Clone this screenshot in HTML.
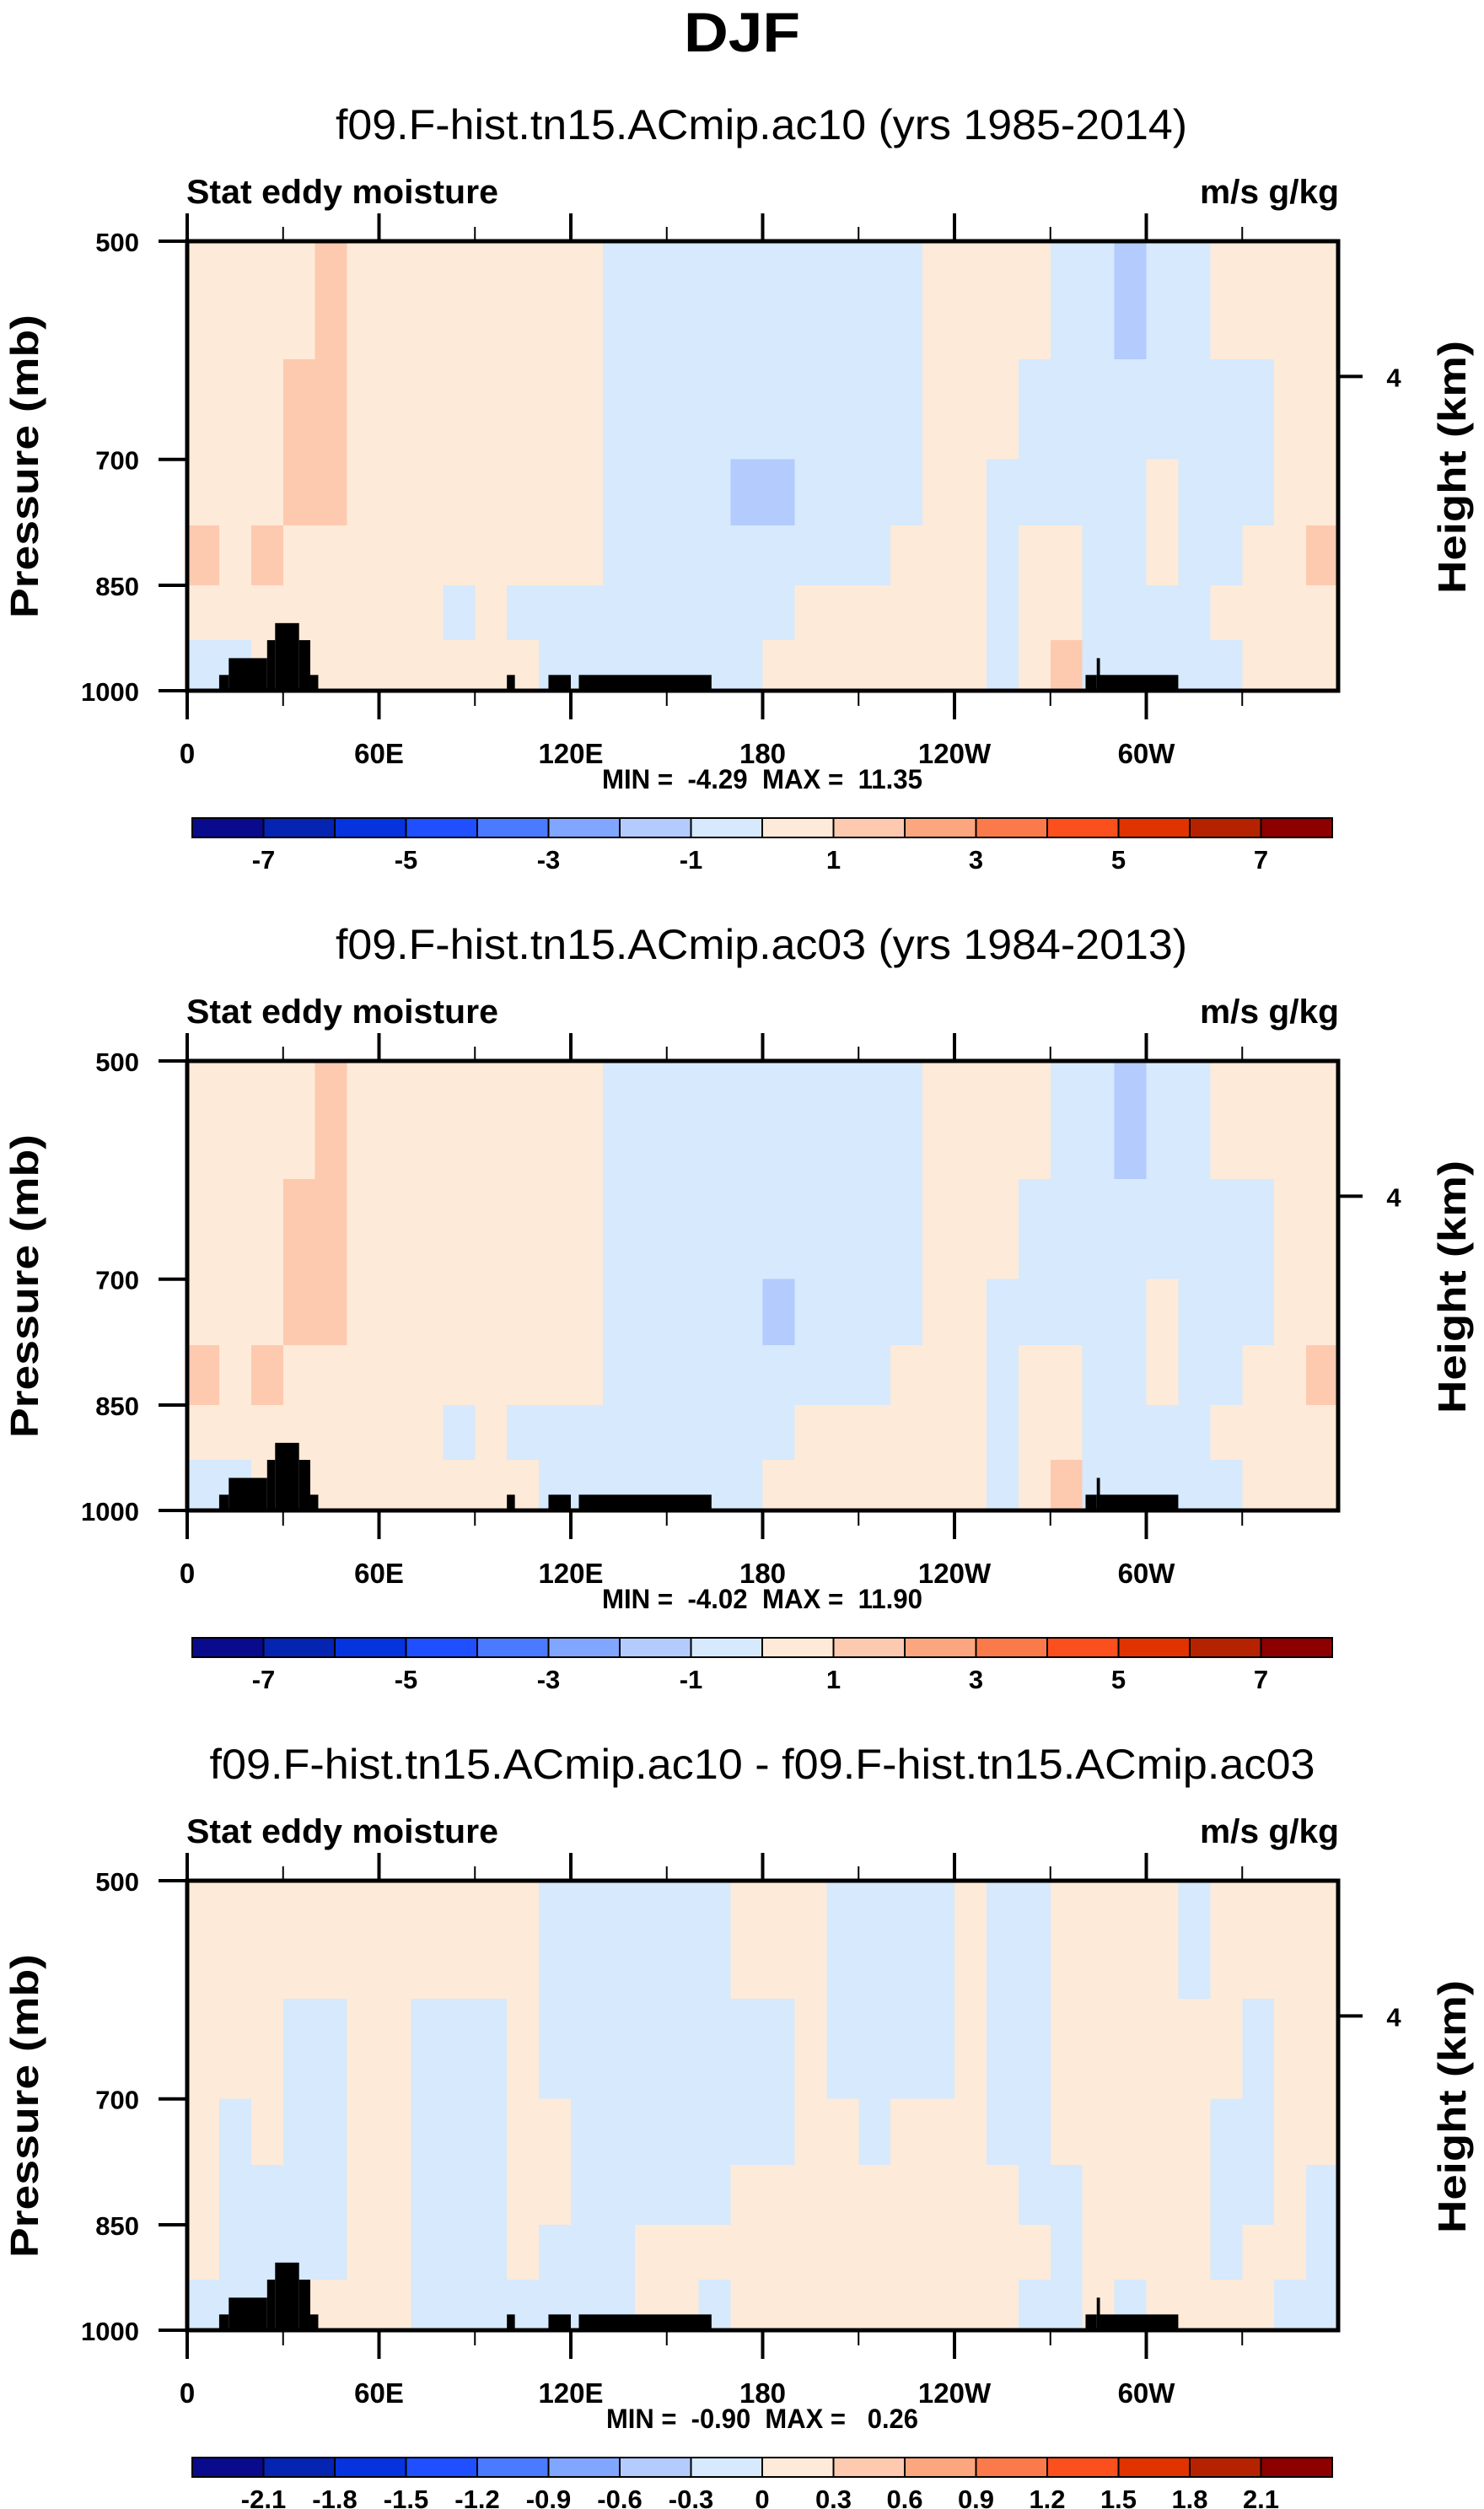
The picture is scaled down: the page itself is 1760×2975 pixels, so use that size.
<!DOCTYPE html>
<html><head><meta charset="utf-8"><style>
html,body{margin:0;padding:0;background:#fff;}
svg{display:block;font-family:"Liberation Sans",sans-serif;}
text{white-space:pre;}
</style></head><body>
<svg id="root" xmlns="http://www.w3.org/2000/svg" width="1760" height="2975" viewBox="0 0 1760 2975">
<text x="880" y="61" text-anchor="middle" font-size="66" font-weight="bold" textLength="138" lengthAdjust="spacingAndGlyphs">DJF</text>
</svg>
<script>
// ---- data ----
const lonEdgesStep = 10;
const pressureBands = [500, 600, 700, 775, 850, 925, 1000];
const panelTitles = ["f09.F-hist.tn15.ACmip.ac10 (yrs 1985-2014)", "f09.F-hist.tn15.ACmip.ac03 (yrs 1984-2013)", "f09.F-hist.tn15.ACmip.ac10 - f09.F-hist.tn15.ACmip.ac03"];
const minMaxLabels = ["MIN =  -4.29  MAX =  11.35", "MIN =  -4.02  MAX =  11.90", "MIN =  -0.90  MAX =   0.26"];
const panel1Values = [
[.5,.5,.5,1.5,.5,-.5],[.5,.5,.5,.5,.5,-.5],[.5,.5,.5,1.5,.5,.5],[.5,1.5,1.5,.5,.5,.5],[1.5,1.5,1.5,.5,.5,.5],
[.5,.5,.5,.5,.5,.5],[.5,.5,.5,.5,.5,.5],[.5,.5,.5,.5,.5,.5],[.5,.5,.5,.5,-.5,.5],[.5,.5,.5,.5,.5,.5],
[.5,.5,.5,.5,-.5,.5],[.5,.5,.5,.5,-.5,-.5],[.5,.5,.5,.5,-.5,-.5],[-.5,-.5,-.5,-.5,-.5,-.5],[-.5,-.5,-.5,-.5,-.5,-.5],
[-.5,-.5,-.5,-.5,-.5,-.5],[-.5,-.5,-.5,-.5,-.5,-.5],[-.5,-.5,-1.5,-.5,-.5,-.5],[-.5,-.5,-1.5,-.5,-.5,.5],[-.5,-.5,-.5,-.5,.5,.5],
[-.5,-.5,-.5,-.5,.5,.5],[-.5,-.5,-.5,-.5,.5,.5],[-.5,-.5,-.5,.5,.5,.5],[.5,.5,.5,.5,.5,.5],[.5,.5,.5,.5,.5,.5],
[.5,.5,-.5,-.5,-.5,-.5],[.5,-.5,-.5,.5,.5,.5],[-.5,-.5,-.5,.5,.5,1.5],[-.5,-.5,-.5,-.5,-.5,-.5],[-1.5,-.5,-.5,-.5,-.5,-.5],
[-.5,-.5,.5,.5,-.5,-.5],[-.5,-.5,-.5,-.5,-.5,-.5],[.5,-.5,-.5,-.5,.5,-.5],[.5,-.5,-.5,.5,.5,.5],[.5,.5,.5,.5,.5,.5],
[.5,.5,.5,1.5,.5,.5]];
const panel2Values = [
[.5,.5,.5,1.5,.5,-.5],[.5,.5,.5,.5,.5,-.5],[.5,.5,.5,1.5,.5,.5],[.5,1.5,1.5,.5,.5,.5],[1.5,1.5,1.5,.5,.5,.5],
[.5,.5,.5,.5,.5,.5],[.5,.5,.5,.5,.5,.5],[.5,.5,.5,.5,.5,.5],[.5,.5,.5,.5,-.5,.5],[.5,.5,.5,.5,.5,.5],
[.5,.5,.5,.5,-.5,.5],[.5,.5,.5,.5,-.5,-.5],[.5,.5,.5,.5,-.5,-.5],[-.5,-.5,-.5,-.5,-.5,-.5],[-.5,-.5,-.5,-.5,-.5,-.5],
[-.5,-.5,-.5,-.5,-.5,-.5],[-.5,-.5,-.5,-.5,-.5,-.5],[-.5,-.5,-.5,-.5,-.5,-.5],[-.5,-.5,-1.5,-.5,-.5,.5],[-.5,-.5,-.5,-.5,.5,.5],
[-.5,-.5,-.5,-.5,.5,.5],[-.5,-.5,-.5,-.5,.5,.5],[-.5,-.5,-.5,.5,.5,.5],[.5,.5,.5,.5,.5,.5],[.5,.5,.5,.5,.5,.5],
[.5,.5,-.5,-.5,-.5,-.5],[.5,-.5,-.5,.5,.5,.5],[-.5,-.5,-.5,.5,.5,1.5],[-.5,-.5,-.5,-.5,-.5,-.5],[-1.5,-.5,-.5,-.5,-.5,-.5],
[-.5,-.5,.5,.5,-.5,-.5],[-.5,-.5,-.5,-.5,-.5,-.5],[.5,-.5,-.5,-.5,.5,-.5],[.5,-.5,-.5,.5,.5,.5],[.5,.5,.5,.5,.5,.5],
[.5,.5,.5,1.5,.5,.5]];
const panel3Values = [
[.15,.15,.15,.15,.15,-.15],[.15,.15,-.15,-.15,-.15,-.15],[.15,.15,.15,-.15,-.15,-.15],[.15,-.15,-.15,-.15,-.15,.15],[.15,-.15,-.15,-.15,-.15,.15],
[.15,.15,.15,.15,.15,.15],[.15,.15,.15,.15,.15,.15],[.15,-.15,-.15,-.15,-.15,-.15],[.15,-.15,-.15,-.15,-.15,-.15],[.15,-.15,-.15,-.15,-.15,-.15],
[.15,.15,.15,.15,.15,-.15],[-.15,-.15,.15,.15,-.15,-.15],[-.15,-.15,-.15,-.15,-.15,-.15],[-.15,-.15,-.15,-.15,-.15,-.15],[-.15,-.15,-.15,-.15,.15,.15],
[-.15,-.15,-.15,-.15,.15,.15],[-.15,-.15,-.15,-.15,.15,-.15],[.15,-.15,-.15,.15,.15,.15],[.15,-.15,-.15,.15,.15,.15],[.15,.15,.15,.15,.15,.15],
[-.15,-.15,.15,.15,.15,.15],[-.15,-.15,-.15,.15,.15,.15],[-.15,-.15,.15,.15,.15,.15],[-.15,-.15,.15,.15,.15,.15],[.15,.15,.15,.15,.15,.15],
[-.15,-.15,-.15,.15,.15,.15],[-.15,-.15,-.15,-.15,.15,-.15],[.15,.15,.15,-.15,-.15,-.15],[.15,.15,.15,.15,.15,.15],[.15,.15,.15,.15,.15,-.15],
[.15,.15,.15,.15,.15,.15],[-.15,.15,.15,.15,.15,.15],[.15,.15,-.15,-.15,-.15,.15],[.15,-.15,-.15,-.15,.15,.15],[.15,.15,.15,.15,.15,-.15],
[.15,.15,.15,-.15,-.15,-.15]];
const topography = [[10,13,976],[13,25,951],[25,27.5,925],[27.5,35,901],[35,38.5,925],[38.5,41,976],[100,102.5,976],[113,120,976],[122.5,164,976],[281,284.5,976],[284.5,285.5,951],[285.5,310,976]];
const xTickLons = [0, 60, 120, 180, 240, 300];
const xTickLabels = ["0", "60E", "120E", "180", "120W", "60W"];
const xMinorLons = [30, 90, 150, 210, 270, 330];
const yTickPressures = [500, 700, 850, 1000];
const heightTickKm = [4];
const heightTickPressure = [616];
const cbLabels12 = ["-7","","-5","","-3","","-1","","1","","3","","5","","7"];
const cbLabels3 = ["-2.1","-1.8","-1.5","-1.2","-0.9","-0.6","-0.3","0","0.3","0.6","0.9","1.2","1.5","1.8","2.1"];
const levelSteps = [1, 1, 0.3];
const palette = ["#0a0a8c","#0524b2","#0533de","#1f4fff","#4a7aff","#80a6ff","#b3cbfd","#d6e9fd","#feead8","#fdcab0","#fca67f","#fb7a4c","#fb4f1e","#e03300","#b52200","#8c0000"];

// ---- drawing ----
const NS = "http://www.w3.org/2000/svg";
const root = document.getElementById("root");
const PL = 222, PR = 1587, PT = 286, PH = 533, DY = 972;
function mk(tag, attrs, parent, txt) {
  const e = document.createElementNS(NS, tag);
  for (const k in attrs) e.setAttribute(k, attrs[k]);
  if (txt !== undefined) e.textContent = txt;
  (parent || root).appendChild(e);
  return e;
}
function xs(lon) { return PL + (PR - PL) * lon / 360; }
function ys(p, k) { return PT + k * DY + PH * Math.log(p / 500) / Math.LN2; }
function colorIdx(v, step) { return Math.max(0, Math.min(15, Math.floor(v / step) + 8)); }

const allValues = [panel1Values, panel2Values, panel3Values];
for (let k = 0; k < 3; k++) {
  const oy = k * DY;
  const g = mk("g", {});
  
  
  const tt = mk("text", {x: k === 2 ? 904 : 903, y: 165 + oy, "text-anchor": "middle", "font-size": 50, textLength: k === 2 ? 1311 : 1010, lengthAdjust: "spacingAndGlyphs"}, g, panelTitles[k]);
  
  
  const lt = mk("text", {x: 221, y: 241 + oy, "font-size": 40, "font-weight": "bold", textLength: 370, lengthAdjust: "spacingAndGlyphs"}, g, "Stat eddy moisture");
  
  
  const ut = mk("text", {x: 1588, y: 241 + oy, "text-anchor": "end", "font-size": 40, "font-weight": "bold", textLength: 165, lengthAdjust: "spacingAndGlyphs"}, g, "m/s g/kg");
  
  
  const cg = mk("g", {"shape-rendering": "crispEdges"}, g);
  
  
  const vals = allValues[k];
  for (let c = 0; c < vals.length; c++) {
    for (let r = 0; r < pressureBands.length - 1; r++) {
      const x0 = xs(c * lonEdgesStep), x1 = xs((c + 1) * lonEdgesStep);
      const y0 = ys(pressureBands[r], k), y1 = ys(pressureBands[r + 1], k);
      const cell = mk("rect", {x: x0, y: y0, width: x1 - x0 + 0.6, height: y1 - y0 + 0.6, fill: palette[colorIdx(vals[c][r], levelSteps[k])]}, cg);
      
      
    }
  }
  for (const t of topography) {
    const tr = mk("rect", {x: xs(t[0]), y: ys(t[2], k), width: xs(t[1]) - xs(t[0]), height: ys(1000, k) - ys(t[2], k), fill: "#000"}, g);
    
    
  }
  const fr = mk("rect", {x: PL, y: PT + oy, width: PR - PL, height: PH, fill: "none", stroke: "#000", "stroke-width": 5}, g);
  
  
  xTickLons.forEach((lon, i) => {
    const x = xs(lon);
    const t1 = mk("line", {x1: x, x2: x, y1: PT + oy, y2: PT + oy - 33, stroke: "#000", "stroke-width": 4}, g);
    
    
    const t2 = mk("line", {x1: x, x2: x, y1: PT + PH + oy, y2: PT + PH + oy + 34, stroke: "#000", "stroke-width": 4}, g);
    
    
    const lb = mk("text", {x: x, y: 905 + oy, "text-anchor": "middle", "font-size": 33, "font-weight": "bold"}, g, xTickLabels[i]);
    
    
  });
  xMinorLons.forEach(lon => {
    const x = xs(lon);
    const m1 = mk("line", {x1: x, x2: x, y1: PT + oy, y2: PT + oy - 17, stroke: "#000", "stroke-width": 2}, g);
    
    
    const m2 = mk("line", {x1: x, x2: x, y1: PT + PH + oy, y2: PT + PH + oy + 18, stroke: "#000", "stroke-width": 2}, g);
    
    
  });
  yTickPressures.forEach(p => {
    const y = ys(p, k);
    const yt = mk("line", {x1: PL, x2: PL - 34, y1: y, y2: y, stroke: "#000", "stroke-width": 4}, g);
    
    
    const yl = mk("text", {x: 165, y: y + 12, "text-anchor": "end", "font-size": 31, "font-weight": "bold"}, g, String(p));
    
    
  });
  heightTickKm.forEach((km, i) => {
    const y = ys(heightTickPressure[i], k);
    const ht = mk("line", {x1: PR, x2: PR + 29, y1: y, y2: y, stroke: "#000", "stroke-width": 4}, g);
    
    
    const hl = mk("text", {x: 1653, y: y + 12, "text-anchor": "middle", "font-size": 31, "font-weight": "bold"}, g, String(km));
    
    
  });
  const ya = mk("text", {x: 0, y: 0, transform: "translate(45," + (553 + oy) + ") rotate(-90)", "text-anchor": "middle", "font-size": 46, "font-weight": "bold", textLength: 360, lengthAdjust: "spacingAndGlyphs"}, g, "Pressure (mb)");
  
  
  const ha = mk("text", {x: 0, y: 0, transform: "translate(1738," + (554 + oy) + ") rotate(-90)", "text-anchor": "middle", "font-size": 46, "font-weight": "bold", textLength: 300, lengthAdjust: "spacingAndGlyphs"}, g, "Height (km)");
  
  
  const mm = mk("text", {x: 904, y: 935 + oy, "text-anchor": "middle", "font-size": 32, "font-weight": "bold", textLength: k === 2 ? 370 : 380, lengthAdjust: "spacingAndGlyphs"}, g, minMaxLabels[k]);
  
  
  const cb = mk("g", {}, g);
  
  
  const cbL = 228, cbR = 1580, cbT = 970 + oy, cbH = 23, bw = (cbR - cbL) / 16;
  palette.forEach((col, i) => {
    const b = mk("rect", {x: cbL + i * bw, y: cbT, width: bw, height: cbH, fill: col, stroke: "#000", "stroke-width": 2}, cb);
    
    
  });
  const labs = k === 2 ? cbLabels3 : cbLabels12;
  labs.forEach((s, i) => {
    if (!s) return;
    const l = mk("text", {x: cbL + (i + 1) * bw, y: 1030 + oy, "text-anchor": "middle", "font-size": 31, "font-weight": "bold"}, cb, s);
    
    
  });
}
</script>
</body></html>
